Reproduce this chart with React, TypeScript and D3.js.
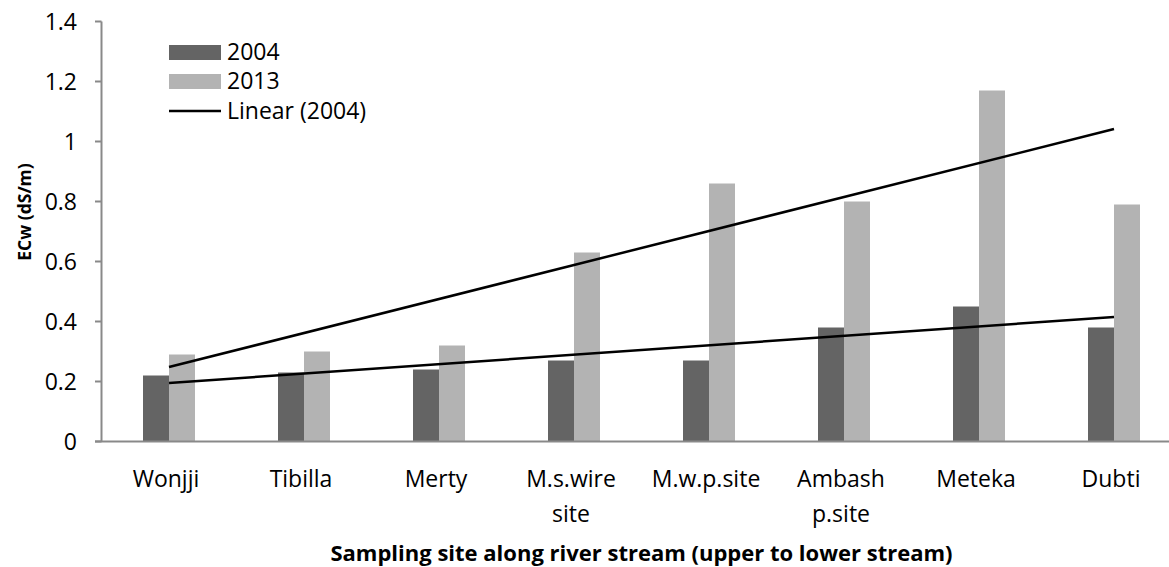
import React from "react";
import * as d3 from "d3";

const categories = ["Wonjji", "Tibilla", "Merty", "M.s.wire site", "M.w.p.site", "Ambash p.site", "Meteka", "Dubti"];
const categoryLines = [["Wonjji"], ["Tibilla"], ["Merty"], ["M.s.wire", "site"], ["M.w.p.site"], ["Ambash", "p.site"], ["Meteka"], ["Dubti"]];
const seriesNames = ["2004", "2013"];
const values2004 = [0.22, 0.23, 0.24, 0.27, 0.27, 0.38, 0.45, 0.38];
const values2013 = [0.29, 0.30, 0.32, 0.63, 0.86, 0.80, 1.17, 0.79];
const yTicks = [0, 0.2, 0.4, 0.6, 0.8, 1, 1.2, 1.4];

// layout (not data)
const W = 1169, H = 567;
const plotLeft = 101.5, plotRight = 1181.5, plotTop = 21.5, plotBottom = 441.5;
const labelShift = -3;
const colors: Record<string, string> = { "2004": "#646464", "2013": "#b3b3b3" };
const FONT = "'Open Sans', sans-serif";
const FS = 23;

function linearFit(ys: number[]) {
  const n = ys.length;
  const xs = ys.map((_, i) => i + 1);
  const mx = d3.mean(xs)!, my = d3.mean(ys)!;
  let sxy = 0, sxx = 0;
  xs.forEach((x, i) => { sxy += (x - mx) * (ys[i] - my); sxx += (x - mx) ** 2; });
  const b = sxy / sxx, a = my - b * mx;
  return [a + b * 1, a + b * n];
}

export default function App() {
  const x0 = d3.scaleBand<string>().domain(categories).range([plotLeft, plotRight]).paddingInner(0).paddingOuter(0);
  const groupW = 52;
  const x1 = d3.scaleBand<string>().domain(seriesNames).range([0, groupW]);
  const y = d3.scaleLinear().domain([0, 1.4]).range([plotBottom, plotTop]);
  const series = [values2004, values2013];
  const center = (c: string) => x0(c)! + x0.bandwidth() / 2;
  const fits = [linearFit(values2004), linearFit(values2013)];
  const line = d3.line<[number, number]>().x(d => d[0]).y(d => d[1]);
  const first = categories[0], last = categories[categories.length - 1];

  return (
    <svg width={W} height={H} style={{ position: "absolute", left: 0, top: 0, background: "#fff" }} fontFamily={FONT}>
      <rect width={W} height={H} fill="#fff" />
      {/* bars */}
      {categories.map((c, i) => (
        <g key={c} transform={`translate(${x0(c)! + (x0.bandwidth() - groupW) / 2},0)`}>
          {seriesNames.map((s, k) => (
            <rect key={s} x={x1(s)} y={y(series[k][i])} width={x1.bandwidth()} height={plotBottom - y(series[k][i])} fill={colors[s]} />
          ))}
        </g>
      ))}
      {/* axes */}
      <line x1={plotLeft} x2={plotLeft} y1={plotTop} y2={plotBottom} stroke="#898989" strokeWidth={2} />
      <line x1={95} x2={W} y1={plotBottom} y2={plotBottom} stroke="#898989" strokeWidth={2} />
      {yTicks.map(t => (
        <g key={t}>
          <line x1={95} x2={plotLeft} y1={y(t)} y2={y(t)} stroke="#898989" strokeWidth={2} />
          <text x={77} y={y(t)} dy="0.36em" textAnchor="end" fontSize={FS} fill="#000">{String(t)}</text>
        </g>
      ))}
      {/* trend lines */}
      {fits.map((f, k) => (
        <path key={k} d={line([[center(first), y(f[0])], [center(last), y(f[1])]])!} stroke="#000" strokeWidth={2.5} fill="none" />
      ))}
      {/* category labels */}
      {categories.map((c, i) => (
        <text key={c} x={center(c) + labelShift} y={487} textAnchor="middle" fontSize={FS} fill="#000">
          {categoryLines[i].map((ln, j) => (
            <tspan key={j} x={center(c) + labelShift} dy={j === 0 ? 0 : 35}>{ln}</tspan>
          ))}
        </text>
      ))}
      {/* axis titles */}
      <text x={(plotLeft + plotRight) / 2} y={561} textAnchor="middle" fontSize={22} fontWeight="bold" fill="#000">
        Sampling site along river stream (upper to lower stream)
      </text>
      <text transform="translate(31,212) rotate(-90)" textAnchor="middle" fontSize={17.5} fontWeight="bold" fill="#000">
        ECw (dS/m)
      </text>
      {/* legend */}
      <rect x={169} y={45} width={52} height={15} fill={colors["2004"]} />
      <text x={227} y={60} fontSize={FS} fill="#000">2004</text>
      <rect x={169} y={74} width={52} height={15} fill={colors["2013"]} />
      <text x={227} y={89} fontSize={FS} fill="#000">2013</text>
      <line x1={169} x2={221} y1={111} y2={111} stroke="#000" strokeWidth={2.5} />
      <text x={227} y={119} fontSize={FS} fill="#000">Linear (2004)</text>
    </svg>
  );
}
